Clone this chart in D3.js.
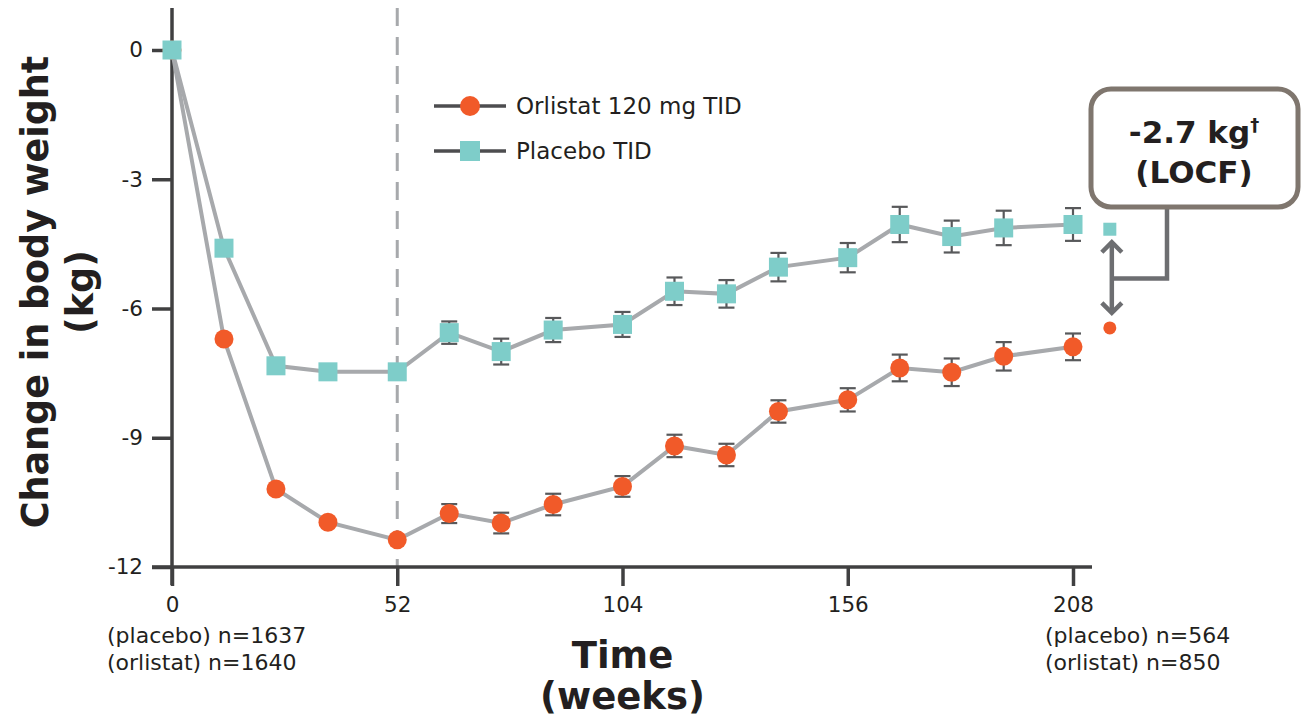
<!DOCTYPE html>
<html>
<head>
<meta charset="utf-8">
<script src="https://cdn.jsdelivr.net/npm/d3@7/dist/d3.min.js"></script>
<style>
  body { margin: 0; background: #fff; }
  svg text { font-family: "DejaVu Sans", Verdana, sans-serif; fill: #231f20; }
</style>
</head>
<body>
<div id="chart"></div>
<script>
// data
var weeks = [0, 12, 24, 36, 52, 64, 76, 88, 104, 116, 128, 140, 156, 168, 180, 192, 208];
var orlistat = [0, -6.71, -10.19, -10.96, -11.37, -10.76, -10.98, -10.55, -10.13, -9.19, -9.40, -8.39, -8.12, -7.38, -7.48, -7.11, -6.89];
var placebo = [0, -4.60, -7.33, -7.47, -7.47, -6.56, -7.00, -6.50, -6.37, -5.60, -5.66, -5.04, -4.82, -4.05, -4.33, -4.13, -4.05];
var orlistatErr = [0, 0, 0, 0, 0, 0.22, 0.24, 0.25, 0.24, 0.26, 0.26, 0.26, 0.27, 0.31, 0.32, 0.33, 0.31];
var placeboErr = [0, 0, 0, 0, 0, 0.26, 0.30, 0.28, 0.29, 0.32, 0.32, 0.33, 0.34, 0.41, 0.37, 0.40, 0.38];
var locfWeek = 216.5;
var orlistatLocf = -6.45;
var placeboLocf = -4.16;
var xTicks = [0, 52, 104, 156, 208];
var yTicks = [0, -3, -6, -9, -12];
var seriesNames = ["Orlistat 120 mg TID", "Placebo TID"];

var svgWidth = 1301;
var svgHeight = 721;

var orange = "#f15a29";
var teal = "#7ecdc9";
var lineGrey = "#a7a9ac";
var axisColor = "#404041";

var svg = d3.select("#chart")
  .append("svg")
  .attr("width", svgWidth)
  .attr("height", svgHeight);

// scales
var x = d3.scaleLinear().domain([0, 208]).range([172, 1073]);
var y = d3.scaleLinear().domain([-12, 0]).range([567, 50]);

// dashed line at week 52
svg.append("line")
  .attr("x1", x(52)).attr("x2", x(52))
  .attr("y1", 8).attr("y2", y(-12))
  .attr("stroke", lineGrey)
  .attr("stroke-width", 3)
  .attr("stroke-dasharray", "18,11");

// axes
var leftAxis = d3.axisLeft(y).tickValues(yTicks).tickSize(20).tickPadding(9)
  .tickFormat(d3.format("d"));
var bottomAxis = d3.axisBottom(x).tickValues(xTicks).tickSize(19).tickPadding(11);

var yG = svg.append("g")
  .attr("transform", `translate(${x(0)}, 0)`)
  .call(leftAxis);
var xG = svg.append("g")
  .attr("transform", `translate(0, ${y(-12)})`)
  .call(bottomAxis);

[yG, xG].forEach(function(g) {
  g.select(".domain").remove();
  g.selectAll(".tick line").attr("stroke", axisColor).attr("stroke-width", 3.5);
  g.selectAll(".tick text")
    .attr("font-size", 21.5)
    .attr("font-family", "DejaVu Sans, Verdana, sans-serif")
    .attr("fill", "#231f20");
});
yG.selectAll(".tick text").text(d => d === 0 ? "0" : "-" + Math.abs(d));

// axis lines
svg.append("line")
  .attr("x1", x(0)).attr("x2", x(0))
  .attr("y1", 8).attr("y2", 585)
  .attr("stroke", axisColor).attr("stroke-width", 3.5);
svg.append("line")
  .attr("x1", 152).attr("x2", 1092)
  .attr("y1", y(-12)).attr("y2", y(-12))
  .attr("stroke", axisColor).attr("stroke-width", 3.5);

// series lines
var line = d3.line()
  .x((d, i) => x(weeks[i]))
  .y(d => y(d));

[orlistat, placebo].forEach(function(vals) {
  svg.append("path")
    .datum(vals)
    .attr("d", line)
    .attr("fill", "none")
    .attr("stroke", lineGrey)
    .attr("stroke-width", 4);
});

// error bars
function errorBars(vals, errs) {
  var g = svg.append("g")
    .attr("stroke", "#58595b")
    .attr("stroke-width", 2.2);
  weeks.forEach(function(w, i) {
    if (!errs[i]) return;
    var cx = x(w);
    var top = y(vals[i] + errs[i]);
    var bot = y(vals[i] - errs[i]);
    g.append("line").attr("x1", cx).attr("x2", cx).attr("y1", top).attr("y2", bot);
    g.append("line").attr("x1", cx - 8).attr("x2", cx + 8).attr("y1", top).attr("y2", top);
    g.append("line").attr("x1", cx - 8).attr("x2", cx + 8).attr("y1", bot).attr("y2", bot);
  });
}
errorBars(orlistat, orlistatErr);
errorBars(placebo, placeboErr);

// markers
svg.append("g").selectAll("circle")
  .data(orlistat)
  .enter()
  .append("circle")
  .attr("cx", (d, i) => x(weeks[i]))
  .attr("cy", d => y(d))
  .attr("r", 9.5)
  .attr("fill", orange);

svg.append("g").selectAll("rect")
  .data(placebo)
  .enter()
  .append("rect")
  .attr("x", (d, i) => x(weeks[i]) - 9.5)
  .attr("y", d => y(d) - 9.5)
  .attr("width", 19)
  .attr("height", 19)
  .attr("fill", teal);

// LOCF points
svg.append("circle")
  .attr("cx", x(locfWeek)).attr("cy", y(orlistatLocf))
  .attr("r", 6.5).attr("fill", orange);
svg.append("rect")
  .attr("x", x(locfWeek) - 6.5).attr("y", y(placeboLocf) - 6.5)
  .attr("width", 13).attr("height", 13)
  .attr("fill", teal);

// double arrow between LOCF points
var arrowColor = "#6d6e71";
var ax = x(locfWeek) + 2;
var aTop = y(placeboLocf) + 11;
var aBot = y(orlistatLocf) - 13;
var arrow = svg.append("g")
  .attr("stroke", arrowColor)
  .attr("stroke-width", 4.5)
  .attr("fill", "none");
arrow.append("line").attr("x1", ax).attr("x2", ax).attr("y1", aTop + 2).attr("y2", aBot - 2);
arrow.append("polyline").attr("points", `${ax - 10},${aTop + 12} ${ax},${aTop + 2} ${ax + 10},${aTop + 12}`);
arrow.append("polyline").attr("points", `${ax - 10},${aBot - 12} ${ax},${aBot - 2} ${ax + 10},${aBot - 12}`);

// connector to the box
var connY = (aTop + aBot) / 2 + 1;
svg.append("polyline")
  .attr("points", `${ax},${connY} 1167,${connY} 1167,206`)
  .attr("stroke", arrowColor)
  .attr("stroke-width", 4.5)
  .attr("fill", "none");

// annotation box
svg.append("rect")
  .attr("x", 1091).attr("y", 89)
  .attr("width", 207).attr("height", 118)
  .attr("rx", 20).attr("ry", 20)
  .attr("fill", "#fff")
  .attr("stroke", "#7f766e")
  .attr("stroke-width", 5);

var boxText = svg.append("text")
  .attr("x", 1194).attr("y", 143)
  .attr("text-anchor", "middle")
  .attr("font-size", 31)
  .attr("font-weight", "bold");
boxText.append("tspan").text("-2.7 kg");
boxText.append("tspan").attr("font-size", 18).attr("dy", -12).text("\u2020");
svg.append("text")
  .attr("x", 1194).attr("y", 183)
  .attr("text-anchor", "middle")
  .attr("font-size", 31)
  .attr("font-weight", "bold")
  .text("(LOCF)");

// legend
var legend = svg.append("g");
[0, 1].forEach(function(i) {
  var ly = 106 + i * 45;
  legend.append("line")
    .attr("x1", 434).attr("x2", 506)
    .attr("y1", ly).attr("y2", ly)
    .attr("stroke", "#4d4d4f").attr("stroke-width", 3.5);
  if (i === 0) {
    legend.append("circle").attr("cx", 470).attr("cy", ly).attr("r", 10).attr("fill", orange);
  } else {
    legend.append("rect").attr("x", 460).attr("y", ly - 10).attr("width", 20).attr("height", 20).attr("fill", teal);
  }
  legend.append("text")
    .attr("x", 516).attr("y", ly + 8)
    .attr("font-size", 23)
    .text(seriesNames[i]);
});

// n labels under the x axis
var nLabels = svg.append("g")
  .attr("font-size", 22);
nLabels.append("text").attr("x", 107).attr("y", 643).text("(placebo) n=1637");
nLabels.append("text").attr("x", 107).attr("y", 670).text("(orlistat) n=1640");
nLabels.append("text").attr("x", 1045).attr("y", 643).text("(placebo) n=564");
nLabels.append("text").attr("x", 1045).attr("y", 670).text("(orlistat) n=850");

// axis titles
svg.append("text")
  .attr("x", x(104)).attr("y", 668)
  .attr("text-anchor", "middle")
  .attr("font-size", 37)
  .attr("font-weight", "bold")
  .text("Time");
svg.append("text")
  .attr("x", x(104)).attr("y", 709)
  .attr("text-anchor", "middle")
  .attr("font-size", 37)
  .attr("font-weight", "bold")
  .text("(weeks)");

svg.append("text")
  .attr("transform", "translate(48, 292) rotate(-90)")
  .attr("text-anchor", "middle")
  .attr("font-size", 36.5)
  .attr("font-weight", "bold")
  .text("Change in body weight");
svg.append("text")
  .attr("transform", "translate(93, 292) rotate(-90)")
  .attr("text-anchor", "middle")
  .attr("font-size", 36.5)
  .attr("font-weight", "bold")
  .text("(kg)");
</script>
</body>
</html>
